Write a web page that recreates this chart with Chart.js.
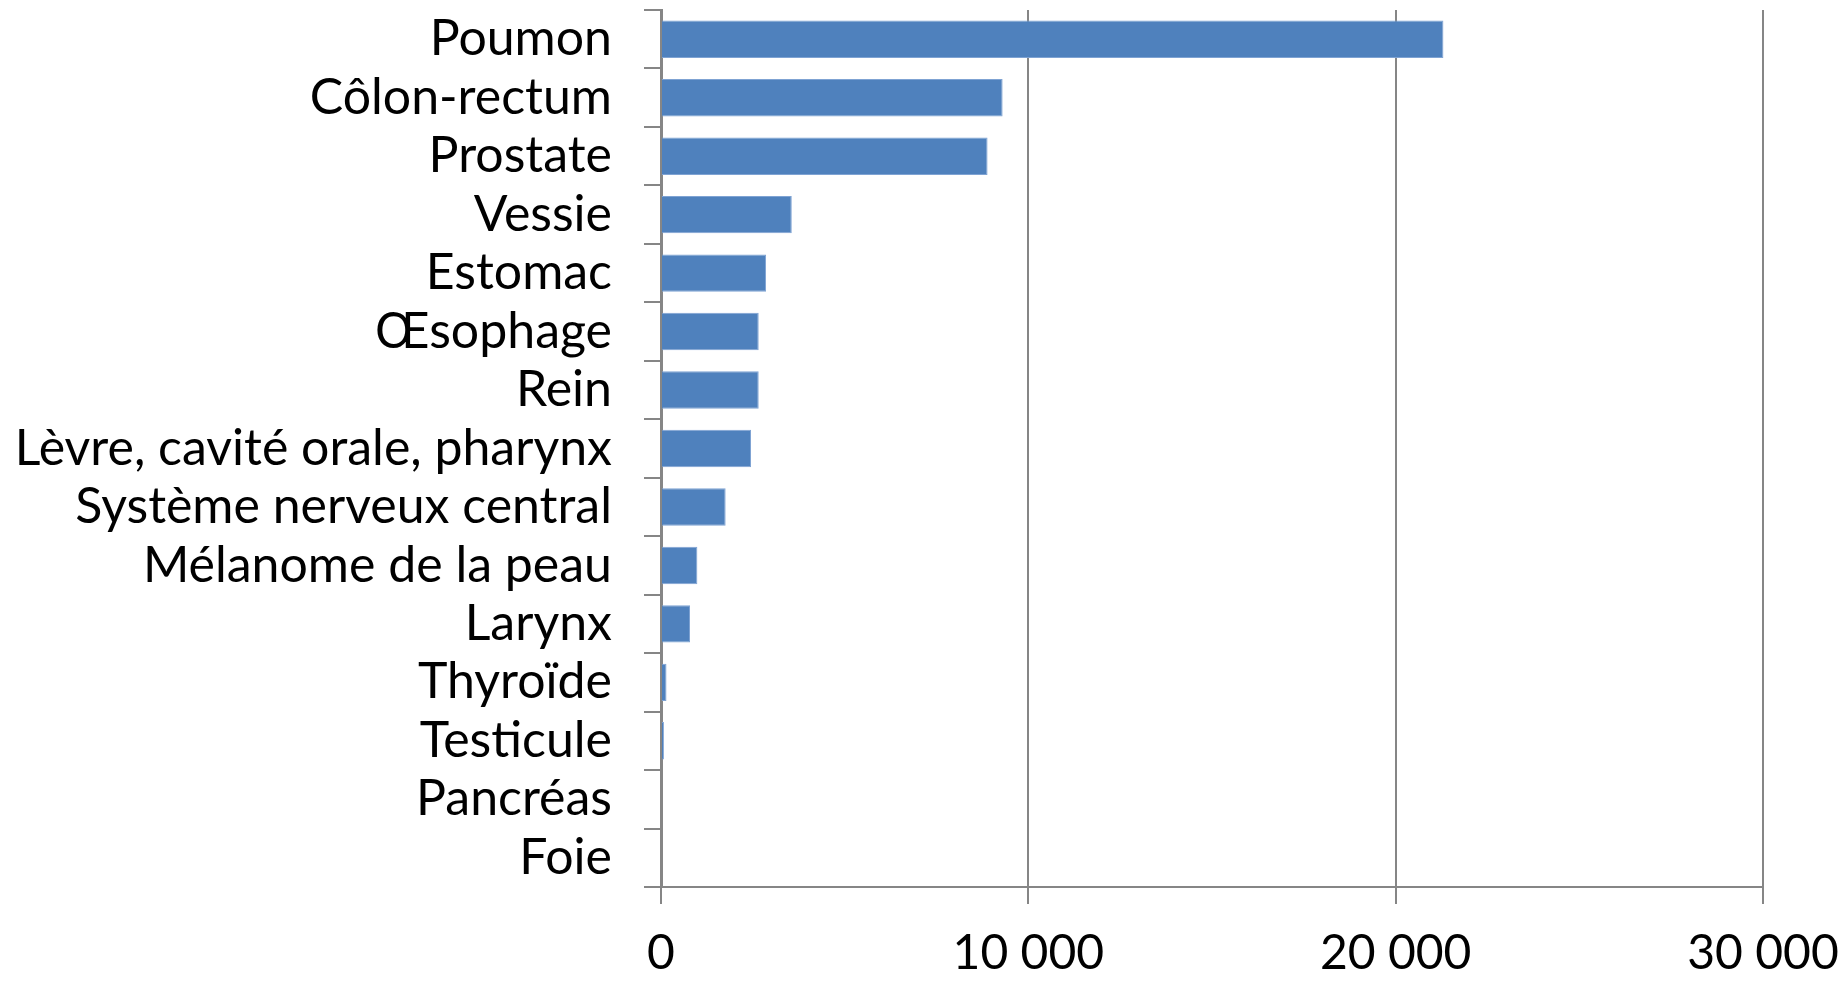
<!DOCTYPE html>
<html lang="fr">
  <head>
    <meta charset="UTF-8" />
    <title>Cancers par localisation</title>
    <script src="https://cdn.jsdelivr.net/npm/chart.js"></script>
    <style>
      body { margin: 0; background: #fff; }
    </style>
  </head>
  <body>
    <canvas id="cancerChart" width="1842" height="983"></canvas>

    <script>
      const localisations = [
        "Poumon",
        "Côlon-rectum",
        "Prostate",
        "Vessie",
        "Estomac",
        "Œsophage",
        "Rein",
        "Lèvre, cavité orale, pharynx",
        "Système nerveux central",
        "Mélanome de la peau",
        "Larynx",
        "Thyroïde",
        "Testicule",
        "Pancréas",
        "Foie",
      ];
      const cas = [21300, 9300, 8890, 3560, 2860, 2660, 2660, 2450, 1760, 990, 790, 150, 80, 0, 0];
      const xTickValues = [0, 10000, 20000, 30000];
      const xTickLabels = ["0", "10 000", "20 000", "30 000"];

      const axisGray = "#868686";
      const fontFamily = "Lato, sans-serif";

      const ctx = document.getElementById("cancerChart").getContext("2d");
      new Chart(ctx, {
        type: "bar",
        data: {
          labels: localisations,
          datasets: [
            {
              data: cas,
              backgroundColor: "#4F81BD",
              borderColor: "#7FA3D3",
              borderWidth: 1,
              categoryPercentage: 1,
              barPercentage: 0.64,
            },
          ],
        },
        options: {
          indexAxis: "y",
          responsive: false,
          animation: false,
          devicePixelRatio: 1,
          layout: { padding: { top: 10, right: 79, left: 0, bottom: 0 } },
          plugins: {
            legend: { display: false },
            tooltip: { enabled: false },
          },
          scales: {
            x: {
              min: 0,
              max: 30000,
              afterBuildTicks: (scale) => {
                scale.ticks = xTickValues.map((v) => ({ value: v }));
              },
              afterFit: (scale) => {
                scale.height = 96;
                scale.paddingLeft = 0;
                scale.paddingRight = 0;
              },
              grid: {
                color: axisGray,
                lineWidth: 2,
                tickLength: 17,
              },
              border: { color: axisGray, width: 2 },
              ticks: {
                color: "#000",
                padding: 21,
                font: { family: fontFamily, size: 48 },
                callback: (v) => xTickLabels[xTickValues.indexOf(v)],
              },
            },
            y: {
              afterFit: (scale) => {
                scale.width = 661;
                scale.paddingTop = 0;
                scale.paddingBottom = 0;
              },
              grid: {
                offset: true,
                drawOnChartArea: false,
                color: axisGray,
                lineWidth: 2,
                tickLength: 17,
              },
              border: { color: axisGray, width: 3 },
              ticks: {
                color: "#000",
                padding: 32,
                autoSkip: false,
                font: { family: fontFamily, size: 50 },
              },
            },
          },
        },
      });
    </script>
  </body>
</html>
